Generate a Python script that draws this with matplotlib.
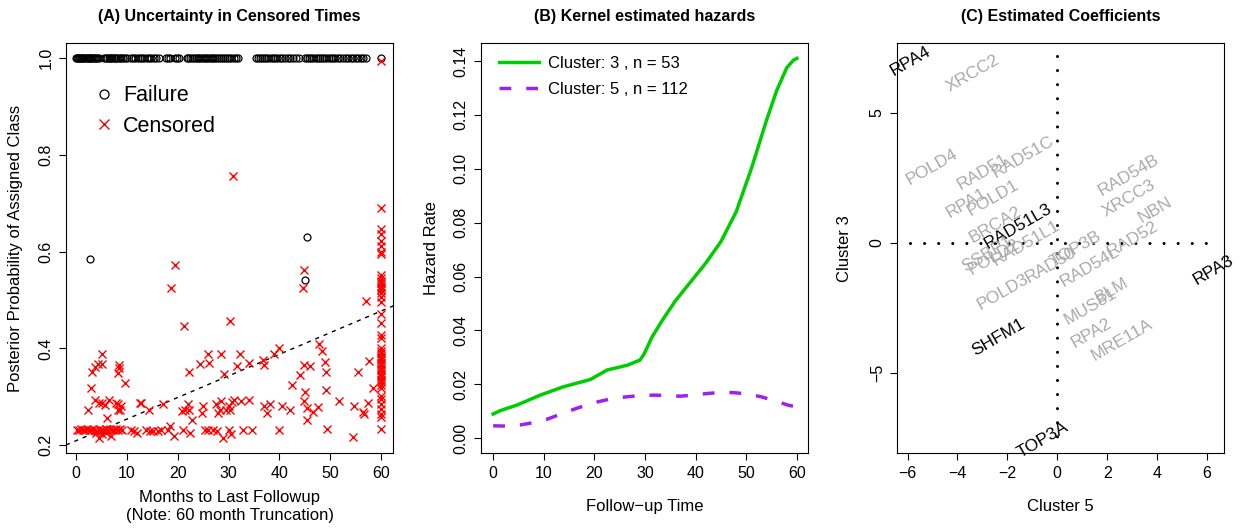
import numpy as np
import matplotlib
matplotlib.use("Agg")
import matplotlib.pyplot as plt

plt.rcParams['font.family'] = ['Liberation Sans', 'DejaVu Sans']

# (A) posterior probability of the assigned class
# failures sitting at probability 1.0
fail_months = [0.0, 0.2, 0.4, 0.6, 0.8, 1.0, 1.2, 1.4, 1.6, 1.9, 2.1, 2.3,
               2.5, 2.8, 3.0, 3.2, 3.5, 3.7, 4.0, 4.2, 4.5,
               5.6, 5.9, 6.1, 6.4, 6.6, 6.9, 7.1, 7.4, 7.7, 7.9, 8.2, 8.6,
               8.9, 9.3, 9.6, 10.0,
               10.8, 11.2, 11.6, 12.1, 12.5, 12.9, 13.4, 13.9, 14.3, 14.8,
               15.3, 15.8, 16.3,
               17.7, 18.0, 18.4, 19.5, 19.9, 20.3,
               21.8, 22.1, 22.5, 22.8, 23.2, 23.5, 23.9, 24.2, 24.6, 24.9,
               25.3, 25.6, 26.0, 26.3, 26.7, 27.0, 27.4, 27.8, 28.1, 28.5,
               28.9, 29.3, 29.7, 30.1, 30.5, 31.0, 31.4, 31.9,
               35.3, 35.7, 36.1, 36.5, 37.0, 37.4, 37.8, 38.3, 38.7, 39.2,
               39.6, 40.1, 40.6, 41.1, 41.6, 42.1, 42.6, 43.2, 43.8,
               45.1, 45.5, 45.9, 46.3, 46.7, 47.1, 47.5, 47.9, 48.4, 48.8,
               49.2, 49.7, 50.1, 50.6, 51.0, 51.5, 52.0, 52.5, 53.0, 53.5,
               54.0, 54.5, 55.0, 55.5, 56.0, 56.5, 57.0, 59.9]
# failures below 1.0
fail_low_months = [2.8, 45.5, 45.1]
fail_low_prob = [0.584, 0.630, 0.542]

cens_months = [0.2, 0.6, 1.0, 1.4, 1.8, 2.2, 2.6, 3.0, 3.4, 3.8, 4.2, 4.6,
               5.0, 5.4, 5.8, 6.2, 6.6, 7.0, 7.4, 7.8, 8.2, 8.6, 9.0,
               4.6, 5.2, 6.9, 3.9, 5.8,
               5.2, 4.3, 5.2, 3.8, 3.1, 2.9, 3.7, 4.6, 5.2, 6.4, 5.7, 2.4,
               6.0, 8.5, 8.2, 8.5, 9.7, 7.9, 8.8, 8.2, 8.6, 8.3,
               12.5, 12.8, 14.3, 17.2,
               10.8, 11.5, 11.9, 13.7, 14.5, 15.1, 16.1, 16.8, 18.1, 18.4, 19.3,
               19.4, 18.75, 21.3, 30.9,
               22.2, 22.0, 21.4, 20.9, 22.2, 22.9, 21.1, 22.4,
               24.4, 26.0, 26.2, 25.0, 24.7,
               25.3, 26.0, 27.0, 27.7, 29.0, 30.0, 30.4,
               28.5, 29.1, 32.3, 31.6, 34.1,
               27.5, 28.5, 28.0, 28.3, 29.5, 30.2, 30.6, 31.0, 32.5, 34.1, 30.1,
               30.3, 32.8, 34.6,
               36.8, 37.0, 38.9, 39.9,
               37.0, 37.5, 38.2, 40.5, 42.0, 39.9, 42.5,
               44.0, 44.8, 46.0, 45.1, 44.8, 45.5, 45.4, 46.6, 47.5,
               44.8, 44.6,
               47.8, 48.4, 48.9, 49.2, 49.2, 49.4, 51.7, 54.4, 54.6, 55.4,
               56.4, 56.7, 57.5, 57.7, 58.5, 57.0]
cens_prob = [0.232, 0.232, 0.233, 0.231, 0.232, 0.234, 0.231, 0.232, 0.233,
             0.232, 0.230, 0.233, 0.232, 0.231, 0.234, 0.232, 0.233, 0.231,
             0.232, 0.234, 0.232, 0.233, 0.231,
             0.215, 0.222, 0.219, 0.226, 0.225,
             0.388, 0.367, 0.367, 0.362, 0.352, 0.319, 0.294, 0.288, 0.288,
             0.294, 0.283, 0.272, 0.256, 0.365, 0.350, 0.359, 0.328, 0.288,
             0.281, 0.273, 0.272, 0.285,
             0.288, 0.288, 0.273, 0.284,
             0.232, 0.229, 0.226, 0.232, 0.229, 0.229, 0.229, 0.232, 0.232,
             0.240, 0.219,
             0.573, 0.525, 0.446, 0.756,
             0.352, 0.285, 0.272, 0.271, 0.273, 0.251, 0.232, 0.225,
             0.367, 0.388, 0.370, 0.281, 0.266,
             0.232, 0.232, 0.232, 0.229, 0.215, 0.232, 0.222,
             0.388, 0.347, 0.388, 0.364, 0.370,
             0.285, 0.291, 0.266, 0.273, 0.273, 0.273, 0.289, 0.293, 0.291,
             0.293, 0.281,
             0.457, 0.232, 0.232,
             0.375, 0.365, 0.388, 0.400,
             0.281, 0.266, 0.285, 0.280, 0.272, 0.232, 0.324,
             0.345, 0.365, 0.363, 0.310, 0.291, 0.277, 0.251, 0.268, 0.279,
             0.563, 0.525,
             0.410, 0.394, 0.372, 0.351, 0.314, 0.233, 0.292, 0.216, 0.281,
             0.352, 0.268, 0.265, 0.287, 0.374, 0.318, 0.497]
# censored at the 60 month truncation
trunc_prob = [0.995, 0.691, 0.647, 0.636, 0.623, 0.612, 0.599, 0.595,
              0.551, 0.545, 0.540, 0.535, 0.530, 0.525, 0.520, 0.515, 0.506,
              0.496, 0.472, 0.453, 0.427, 0.421,
              0.400, 0.395, 0.390, 0.385, 0.380, 0.375, 0.370, 0.365, 0.360,
              0.355, 0.350, 0.345, 0.340, 0.335, 0.330, 0.325, 0.319,
              0.301, 0.295, 0.285, 0.275, 0.265, 0.259, 0.234]
TRUNC = 60
fit_intercept, fit_slope = 0.209, 0.00447

# (B) kernel hazards
c3_time = [0, 1.5, 4.7, 9.3, 13.9, 19.2, 22.5, 26.5, 29.0, 29.8, 31.4, 33.5,
           36, 39, 42, 45, 48, 51, 54, 56, 58, 59.3, 60]
c3_hazard = [0.0090, 0.0103, 0.0123, 0.0160, 0.0191, 0.0218, 0.0253, 0.0271,
             0.0290, 0.0312, 0.0376, 0.0440, 0.0510, 0.0580, 0.0650, 0.0730,
             0.0840, 0.1000, 0.1180, 0.1290, 0.1375, 0.1403, 0.1410]
c5_time = [0, 2.5, 5.3, 8, 10.6, 13.3, 15.9, 18.5, 20.9, 23.5, 26.5, 29,
           31.8, 34.5, 37.0, 39.5, 42.3, 45, 47.6, 50.3, 52.9, 55.5, 58.2,
           59.5, 60]
c5_hazard = [0.0046, 0.0045, 0.0049, 0.0058, 0.0070, 0.0089, 0.0107, 0.0124,
             0.0136, 0.0147, 0.0154, 0.0158, 0.0160, 0.0158, 0.0156, 0.0160,
             0.0166, 0.0170, 0.0169, 0.0164, 0.0154, 0.0140, 0.0123, 0.0118,
             0.0121]

# (C) estimated coefficients
genes = ["RPA4", "XRCC2", "POLD4", "RAD51", "RAD51C", "RPA1", "POLD1",
         "BRCA2", "RAD51L3", "SSBP1", "POLD2", "RAD51L1", "POLD3", "RAD50",
         "TOP3B", "RAD54L", "RAD52", "RAD54B", "XRCC3", "NBN", "BLM", "MUS81",
         "RPA2", "MRE11A", "SHFM1", "TOP3A", "RPA3"]
coef_c5 = [-5.90, -3.39, -5.03, -2.97, -1.36, -3.63, -2.56, -2.50, -1.56,
           -2.80, -2.55, -1.26, -2.19, -0.25, 0.75, 1.31, 3.00, 2.85, 2.85,
           3.92, 2.18, 1.31, 1.38, 2.58, -2.36, -0.56, 6.25]
coef_c3 = [7.00, 6.51, 2.92, 2.73, 3.31, 1.51, 1.71, 0.68, 0.62, -0.45,
           -0.55, -0.03, -1.88, -0.85, -0.25, -0.92, 0.15, 2.60, 1.71, 1.26,
           -1.82, -2.46, -3.49, -3.74, -3.65, -7.59, -1.05]
significant = ["RPA4", "RAD51L3", "SHFM1", "TOP3A", "RPA3"]

W, H = 1244, 529
fig = plt.figure(figsize=(W / 100, H / 100), dpi=100)


def make_axes(left_px, right_px):
    ax = fig.add_axes([left_px / W, (H - 453.3) / H,
                       (right_px - left_px) / W, 410 / H])
    ax.tick_params(direction='out', length=5, width=0.8, labelsize=11.5,
                   pad=4)
    ax.tick_params(axis='y', labelrotation=90)
    for s in ax.spines.values():
        s.set_linewidth(0.8)
    return ax


def fix_ylabels(ax):
    for lab in ax.get_yticklabels():
        lab.set_va('center')


def panel_a():
    ax = make_axes(66, 393.3)
    ax.axline((0, fit_intercept), slope=fit_slope, color='black', lw=1,
              ls=(0, (3, 3.5)))
    ax.plot(fail_months, np.ones(len(fail_months)), ls='none', marker='o',
            mfc='none', mec='black', ms=5, mew=0.9, label='Failure')
    ax.plot(fail_low_months, fail_low_prob, ls='none', marker='o',
            mfc='none', mec='black', ms=5, mew=0.9)
    ax.plot(cens_months, cens_prob, ls='none', marker='x', color='red',
            ms=5.5, mew=1, label='Censored')
    ax.plot(np.full(len(trunc_prob), TRUNC), trunc_prob, ls='none',
            marker='x', color='red', ms=5.5, mew=1)
    ax.set_xlim(-1.97, 62.4)
    ax.set_ylim(0.183, 1.031)
    ax.set_xticks(range(0, 61, 10))
    ax.set_yticks([0.2, 0.4, 0.6, 0.8, 1.0])
    ax.set_yticklabels(['0.2', '0.4', '0.6', '0.8', '1.0'])
    fix_ylabels(ax)
    ax.legend(loc='upper left', bbox_to_anchor=(0.03, 0.945), frameon=False,
              fontsize=15.5, handlelength=0.8, handletextpad=0.5,
              labelspacing=0.45, markerscale=1.3)
    ax.set_title('(A) Uncertainty in Censored Times', fontweight='bold',
                 fontsize=11.5, pad=16)
    ax.set_xlabel('Months to Last Followup\n(Note: 60 month Truncation)',
                  fontsize=12, va='center', linespacing=1.3)
    ax.xaxis.set_label_coords(0.5, -0.13)
    ax.set_ylabel('Posterior Probability of Assigned Class', fontsize=12,
                  va='center')
    ax.yaxis.set_label_coords(-0.155, 0.5)


def panel_b():
    ax = make_axes(481, 808)
    ax.plot(c3_time, c3_hazard, color='#00cd00', lw=2.5,
            label='Cluster: 3 , n = 53')
    ax.plot(c5_time, c5_hazard, color='#a020f0', lw=2.5,
            ls=(0, (3.4, 4.3)), label='Cluster: 5 , n = 112')
    ax.set_xlim(-2.4, 62.2)
    ax.set_ylim(-0.0056, 0.1466)
    ax.set_xticks(range(0, 61, 10))
    ax.set_yticks(np.arange(0, 0.141, 0.02))
    ax.set_yticklabels(['0.00', '0.02', '0.04', '0.06', '0.08', '0.10',
                        '0.12', '0.14'])
    fix_ylabels(ax)
    ax.legend(loc='upper left', bbox_to_anchor=(0.01, 1.005), frameon=False,
              fontsize=12, handlelength=2.4, handletextpad=0.5,
              labelspacing=0.65)
    ax.set_title('(B) Kernel estimated hazards', fontweight='bold',
                 fontsize=11.5, pad=16)
    ax.set_xlabel('Follow\u2212up Time', fontsize=12, va='center')
    ax.xaxis.set_label_coords(0.5, -0.13)
    ax.set_ylabel('Hazard Rate', fontsize=12, va='center')
    ax.yaxis.set_label_coords(-0.15, 0.5)


def panel_c():
    ax = make_axes(897.3, 1224.3)
    dots = dict(color='black', lw=2.2, ls=(0, (0.01, 4.6)),
                dash_capstyle='round')
    ax.plot([min(coef_c5), max(coef_c5)], [0, 0], **dots)
    ax.plot([0, 0], [max(coef_c3) + 0.2, min(coef_c3)], **dots)
    for g, x, y in zip(genes, coef_c5, coef_c3):
        col = 'black' if g in significant else '#aaaaaa'
        ax.text(x, y, g, rotation=30, rotation_mode='anchor', ha='center',
                va='center', color=col, fontsize=12.5)
    ax.set_xlim(-6.41, 6.69)
    ax.set_ylim(-8.10, 7.67)
    ax.set_xticks(range(-6, 7, 2))
    ax.set_yticks([-5, 0, 5])
    fix_ylabels(ax)
    ax.set_title('(C) Estimated Coefficients', fontweight='bold',
                 fontsize=11.5, pad=16)
    ax.set_xlabel('Cluster 5', fontsize=12, va='center')
    ax.xaxis.set_label_coords(0.5, -0.13)
    ax.set_ylabel('Cluster 3', fontsize=12, va='center')
    ax.yaxis.set_label_coords(-0.16, 0.5)


panel_a()
panel_b()
panel_c()
fig.savefig('out.png', dpi=100)
